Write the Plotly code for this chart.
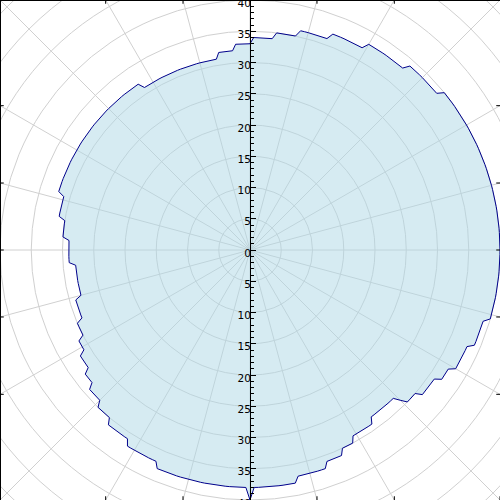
import numpy as np
import plotly.graph_objects as go

# Data: radius (integer) for each whole degree 0..359
angle_deg = list(range(360))
radius = [
    40, 40, 40, 40, 40, 40, 40, 40, 40, 40,   # 0-9
    40, 40, 40, 40, 40, 40, 40, 40, 40, 40,   # 10-19
    40, 40, 40, 40, 40, 40, 40, 40, 40, 40,   # 20-29
    40, 40, 40, 40, 40, 40, 40, 40, 40, 40,   # 30-39
    39, 39, 39, 39, 39, 39, 39, 39, 39, 39,   # 40-49
    38, 38, 38, 38, 38, 38, 38, 38, 38, 38,   # 50-59
    38, 37, 37, 37, 37, 37, 37, 37, 37, 37,   # 60-69
    36, 36, 36, 36, 36, 36, 36, 36, 35, 35,   # 70-79
    35, 35, 35, 35, 34, 34, 34, 34, 34, 34,   # 80-89
    33, 33, 33, 33, 33, 32, 32, 32, 32, 32,   # 90-99
    31, 31, 31, 31, 31, 31, 31, 31, 31, 31,   # 100-109
    31, 31, 31, 31, 31, 31, 31, 31, 31, 31,   # 110-119
    31, 31, 31, 31, 32, 32, 32, 32, 32, 32,   # 120-129
    32, 32, 32, 32, 32, 32, 32, 32, 32, 32,   # 130-139
    32, 32, 32, 32, 32, 32, 32, 32, 32, 32,   # 140-149
    32, 32, 32, 32, 32, 32, 32, 32, 32, 32,   # 150-159
    32, 32, 32, 32, 31, 31, 31, 31, 31, 31,   # 160-169
    31, 30, 30, 30, 30, 30, 30, 29, 29, 29,   # 170-179
    29, 29, 29, 29, 29, 28, 28, 28, 28, 28,   # 180-189
    28, 28, 28, 28, 28, 28, 29, 29, 29, 29,   # 190-199
    29, 29, 29, 30, 30, 30, 30, 30, 31, 31,   # 200-209
    31, 31, 32, 32, 32, 32, 32, 33, 33, 33,   # 210-219
    33, 34, 34, 34, 34, 34, 35, 35, 35, 35,   # 220-229
    35, 36, 36, 36, 36, 36, 36, 36, 37, 37,   # 230-239
    37, 37, 37, 37, 37, 37, 37, 38, 38, 38,   # 240-249
    38, 38, 38, 38, 38, 38, 38, 38, 38, 38,   # 250-259
    38, 38, 38, 38, 38, 38, 38, 38, 38, 38,   # 260-269
    40, 38, 38, 38, 38, 38, 38, 38, 38, 38,   # 270-279
    38, 38, 37, 37, 37, 37, 37, 37, 37, 37,   # 280-289
    36, 36, 36, 36, 36, 35, 35, 35, 35, 34,   # 290-299
    34, 34, 34, 34, 34, 34, 33, 33, 33, 33,   # 300-309
    33, 33, 33, 33, 33, 34, 35, 35, 35, 35,   # 310-319
    36, 36, 36, 36, 36, 36, 37, 37, 37, 37,   # 320-329
    38, 38, 38, 38, 38, 38, 38, 39, 39, 39,   # 330-339
    39, 39, 39, 39, 40, 40, 40, 40, 40, 40,   # 340-349
    40, 40, 40, 40, 40, 40, 40, 40, 40, 40,   # 350-359
]

# Axis / grid settings
axis_ticks = list(range(-40, 41, 5))
axis_labels = [str(abs(v)) for v in axis_ticks]
grid_radii = list(range(5, 60, 5))
grid_angles = list(range(0, 360, 15))

AX = 40.0
theta = np.deg2rad(np.array(angle_deg + [angle_deg[0]], dtype=float))
r = np.array(radius + [radius[0]], dtype=float)
xs = r * np.cos(theta)
ys = r * np.sin(theta)

fig = go.Figure()
fig.add_trace(go.Scatter(
    x=xs, y=ys, mode="lines", fill="toself",
    fillcolor="rgba(173,216,230,0.5)",
    line=dict(color="#00008b", width=1),
    hoverinfo="skip", showlegend=False,
))

shapes = []
grid_col = "#d0d0d0"
for gr in grid_radii:
    shapes.append(dict(type="circle", xref="x", yref="y", x0=-gr, x1=gr, y0=-gr, y1=gr,
                       line=dict(color=grid_col, width=1), layer="below"))
for a in grid_angles:
    t = np.deg2rad(a)
    shapes.append(dict(type="line", xref="x", yref="y", x0=0, y0=0,
                       x1=70 * np.cos(t), y1=70 * np.sin(t),
                       line=dict(color=grid_col, width=1), layer="below"))
# edge ticks where angular grid rays meet the frame
tl = 0.6
for a in grid_angles:
    t = np.deg2rad(a)
    c, s = np.cos(t), np.sin(t)
    if abs(c) >= abs(s):
        if abs(abs(c) - abs(s)) < 1e-6:
            continue
        ex = AX * np.sign(c)
        ey = ex * s / c
        shapes.append(dict(type="line", xref="x", yref="y", x0=ex, y0=ey, x1=ex - np.sign(c) * tl, y1=ey,
                           line=dict(color="black", width=1), layer="above"))
    else:
        if abs(c) < 1e-9:
            continue
        ey = AX * np.sign(s)
        ex = ey * c / s
        shapes.append(dict(type="line", xref="x", yref="y", x0=ex, y0=ey, x1=ex, y1=ey - np.sign(s) * tl,
                           line=dict(color="black", width=1), layer="above"))
# frame (left and top)
shapes.append(dict(type="line", xref="paper", yref="paper", x0=0, x1=0, y0=0, y1=1,
                   line=dict(color="black", width=2), layer="above"))
shapes.append(dict(type="line", xref="paper", yref="paper", x0=0, x1=1, y0=1, y1=1,
                   line=dict(color="black", width=2), layer="above"))

fig.update_layout(
    width=500, height=500,
    margin=dict(l=0, r=0, t=0, b=0, pad=0, autoexpand=False),
    paper_bgcolor="white", plot_bgcolor="white",
    shapes=shapes,
    showlegend=False,
    xaxis=dict(range=[-AX, AX], visible=False, showgrid=False, zeroline=False,
               fixedrange=True, automargin=False),
    yaxis=dict(range=[-AX, AX], showgrid=False, zeroline=False,
               anchor="free", position=0.5, side="left", automargin=False,
               showline=True, linecolor="black", linewidth=1,
               ticks="inside", ticklen=5, tickwidth=1, tickcolor="black",
               tickvals=axis_ticks, ticktext=axis_labels,
               ticklabelstandoff=-3, ticklabelshift=3, ticklabeloverflow="allow",
               tickfont=dict(family="DejaVu Sans", size=10.5, color="black"),
               minor=dict(ticks="inside", ticklen=3, dtick=1, tickcolor="black", showgrid=False),
               fixedrange=True),
)

fig.write_html("out.html", config={"displayModeBar": False},
               post_script="document.body.style.margin='0px';document.body.style.overflow='hidden';")
